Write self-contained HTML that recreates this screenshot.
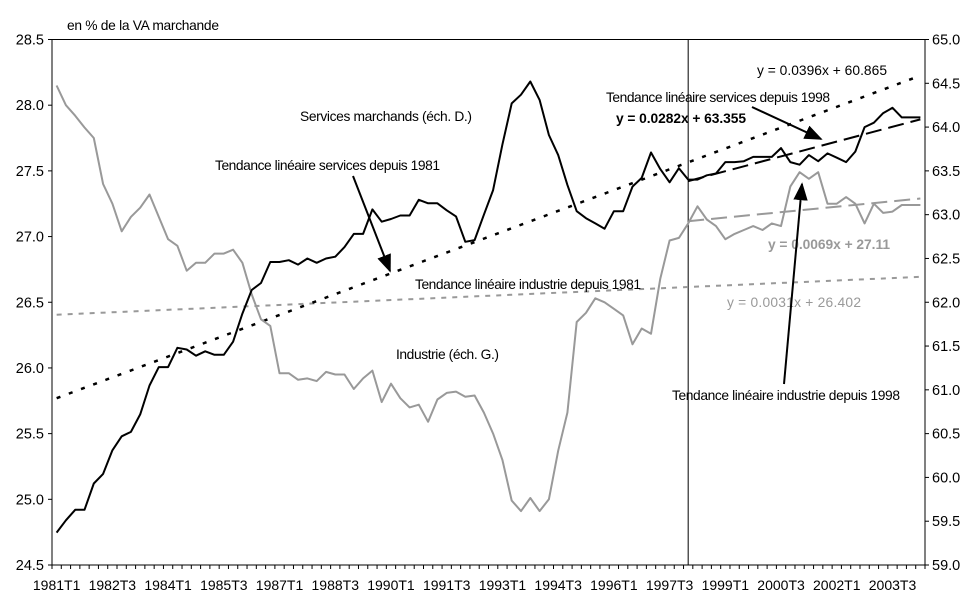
<!DOCTYPE html>
<html><head><meta charset="utf-8"><style>
body{margin:0;background:#fff;}
svg text{font-family:"Liberation Sans",Arial,sans-serif;}
</style></head><body>
<svg id="chart" width="970" height="603" xmlns="http://www.w3.org/2000/svg">
<defs>
<marker id="ah" viewBox="0 0 10 10" refX="9" refY="5" markerWidth="9" markerHeight="9" orient="auto"><path d="M0,1 L10,5 L0,9 z" fill="#000"/></marker>
</defs>
<g id="axes"></g>
<g id="series"></g>
<g id="notes" font-size="13.8">
<text x="67" y="30" textLength="152">en % de la VA marchande</text>
<text x="300" y="121" textLength="172">Services marchands (éch. D.)</text>
<text x="215" y="170" textLength="225">Tendance linéaire services depuis 1981</text>
<line x1="353" y1="176" x2="390" y2="271" stroke="#000" stroke-width="2" marker-end="url(#ah)"/>
<text x="415" y="289" textLength="226">Tendance linéaire industrie depuis 1981</text>
<text x="396" y="359" textLength="103">Industrie (éch. G.)</text>
<text x="757" y="75" textLength="130">y = 0.0396x + 60.865</text>
<text x="606" y="102" textLength="224">Tendance linéaire services depuis 1998</text>
<text x="616" y="123" font-weight="bold" textLength="130">y = 0.0282x + 63.355</text>
<line x1="752" y1="107" x2="821" y2="139" stroke="#000" stroke-width="2" marker-end="url(#ah)"/>
<text x="768" y="249" font-weight="bold" fill="#999" textLength="122">y = 0.0069x + 27.11</text>
<text x="727" y="307" fill="#999" textLength="134">y = 0.0031x + 26.402</text>
<text x="672" y="400" textLength="228">Tendance linéaire industrie depuis 1998</text>
<line x1="784" y1="384" x2="802" y2="184" stroke="#000" stroke-width="2" marker-end="url(#ah)"/>
</g>
</svg>
<script>
const quarterLabels = ["1981T1","1982T3","1984T1","1985T3","1987T1","1988T3","1990T1","1991T3","1993T1","1994T3","1996T1","1997T3","1999T1","2000T3","2002T1","2003T3"];
const leftTicks = [24.5,25.0,25.5,26.0,26.5,27.0,27.5,28.0,28.5];
const rightTicks = [59.0,59.5,60.0,60.5,61.0,61.5,62.0,62.5,63.0,63.5,64.0,64.5,65.0];
const industrie = [28.15,28.0,27.92,27.83,27.75,27.4,27.25,27.04,27.15,27.22,27.32,27.15,26.98,26.93,26.74,26.8,26.8,26.87,26.87,26.9,26.8,26.56,26.37,26.32,25.96,25.96,25.91,25.92,25.9,25.97,25.95,25.95,25.84,25.92,25.98,25.74,25.88,25.77,25.7,25.72,25.59,25.76,25.81,25.82,25.78,25.79,25.66,25.5,25.3,24.99,24.91,25.01,24.91,25.0,25.37,25.66,26.35,26.42,26.53,26.5,26.45,26.4,26.18,26.3,26.26,26.68,26.97,26.99,27.1,27.23,27.13,27.08,26.98,27.02,27.05,27.08,27.05,27.1,27.08,27.38,27.49,27.44,27.49,27.25,27.25,27.3,27.25,27.1,27.25,27.18,27.19,27.24,27.24,27.24];
const services = [59.37,59.51,59.63,59.63,59.93,60.04,60.31,60.47,60.52,60.72,61.05,61.26,61.26,61.48,61.46,61.39,61.44,61.4,61.4,61.55,61.87,62.14,62.22,62.46,62.46,62.48,62.43,62.5,62.45,62.5,62.52,62.63,62.78,62.78,63.06,62.92,62.95,62.99,62.99,63.17,63.13,63.13,63.05,62.98,62.69,62.71,63.0,63.28,63.8,64.27,64.37,64.52,64.31,63.91,63.68,63.34,63.04,62.96,62.9,62.84,63.04,63.04,63.32,63.42,63.71,63.52,63.37,63.53,63.4,63.4,63.45,63.47,63.6,63.6,63.61,63.66,63.66,63.66,63.76,63.6,63.57,63.68,63.61,63.7,63.65,63.6,63.72,64.0,64.05,64.16,64.22,64.11,64.11,64.11];
const servTrend1981 = [0.0396,60.865];
const servTrend1998 = [0.0282,63.355];
const indTrend1981 = [0.0031,26.402];
const indTrend1998 = [0.0069,27.11];
const breakIndex = [68];

const NS="http://www.w3.org/2000/svg";
const X0=52,X1=925,Y0=565,Y1=39.5,N=industrie.length;
const cw=(X1-X0)/N;
const xs=i=>X0+cw*(i+0.5);
const yl=v=>Y0-(v-24.5)/(28.5-24.5)*(Y0-Y1);
const yr=v=>Y0-(v-59)/(65-59)*(Y0-Y1);
function mk(tag,attrs,parent){const e=document.createElementNS(NS,tag);for(const k in attrs)e.setAttribute(k,attrs[k]);parent.appendChild(e);return e;}
const ax=document.getElementById('axes'),se=document.getElementById('series');
let e;
e=mk('line',{x1:X0,y1:Y1,x2:X1,y2:Y1,stroke:'#000'},ax);


e=mk('line',{x1:X0,y1:Y1,x2:X0,y2:Y0,stroke:'#000'},ax);


e=mk('line',{x1:X1,y1:Y1,x2:X1,y2:Y0,stroke:'#000'},ax);


e=mk('line',{x1:X0,y1:Y0,x2:X1,y2:Y0,stroke:'#000'},ax);


for(let i=0;i<=N;i++){const x=X0+cw*i;mk('line',{x1:x,y1:Y0,x2:x,y2:Y0+4,stroke:'#000'},ax);}
leftTicks.forEach(v=>{const y=yl(v);mk('line',{x1:X0-4,y1:y,x2:X0,y2:y,stroke:'#000'},ax);
 const t=mk('text',{x:44,y:y+5,'text-anchor':'end','font-size':14.5},ax);t.textContent=v.toFixed(1);
 
 });
rightTicks.forEach(v=>{const y=yr(v);mk('line',{x1:X1,y1:y,x2:X1+4,y2:y,stroke:'#000'},ax);
 const t=mk('text',{x:932,y:y+5,'font-size':14.5},ax);t.textContent=v.toFixed(1);
 
 });
quarterLabels.forEach((s,k)=>{const t=mk('text',{x:xs(k*6),y:590,'text-anchor':'middle','font-size':14},ax);t.textContent=s;
 
 });
e=mk('line',{x1:xs(breakIndex[0]),y1:Y1,x2:xs(breakIndex[0]),y2:Y0,stroke:'#000'},ax);


function trend(coef,start,end,yf,attrs,name){
 const a=Object.assign({x1:xs(start),y1:yf(coef[0]*1+coef[1]),x2:xs(end),y2:yf(coef[0]*(end-start+1)+coef[1]),fill:'none'},attrs);
 const l=mk('line',a,se);
 
 }
trend(indTrend1981,0,N-1,yl,{stroke:'#999','stroke-width':2,'stroke-dasharray':'5 6'},'industry-trend-1981');
trend(servTrend1981,0,N-1,yr,{stroke:'#000','stroke-width':2.5,'stroke-dasharray':'4 9'},'services-trend-1981');
function poly(arr,yf,color,name){const p=arr.map((v,i)=>xs(i).toFixed(1)+','+yf(v).toFixed(1)).join(' ');
 const l=mk('polyline',{points:p,fill:'none',stroke:color,'stroke-width':2,'stroke-linejoin':'round'},se);
 
 }
poly(industrie,yl,'#999','industry-line');
poly(services,yr,'#000','services-line');
trend(indTrend1998,breakIndex[0],N-1,yl,{stroke:'#999','stroke-width':2,'stroke-dasharray':'16 7'},'industry-trend-1998');
trend(servTrend1998,breakIndex[0],N-1,yr,{stroke:'#000','stroke-width':2,'stroke-dasharray':'16 7'},'services-trend-1998');
</script>
</body></html>
